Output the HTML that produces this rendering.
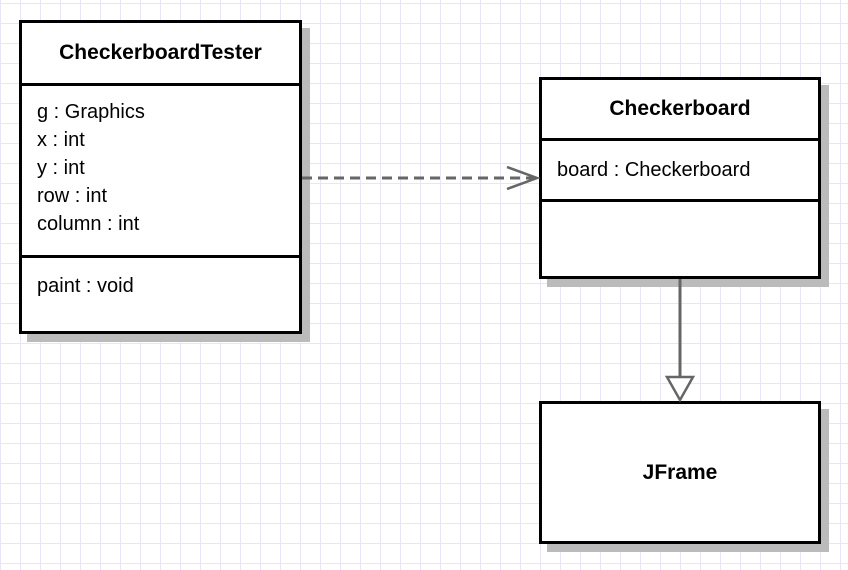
<!DOCTYPE html>
<html><head><style>
body{margin:0;width:848px;height:570px;overflow:hidden;font-family:"Liberation Sans",Arial,sans-serif;
background-color:#fff;
background-image:linear-gradient(to right,#e6e6f8 1px,transparent 1px),linear-gradient(to bottom,#e6e6f8 1px,transparent 1px);
background-size:20px 20px;background-position:0px 3px;}
.box{position:absolute;background:#fff;border:3px solid #000;box-shadow:8px 8px 0 #bbb;box-sizing:border-box}
.sec{border-bottom:3px solid #000;box-sizing:border-box}
.t{font-weight:bold;font-size:21px;text-align:center}
.a{font-size:20px;line-height:28px;padding-left:15px}
</style></head><body>
<div class="box" style="left:19px;top:20px;width:283px;height:314px">
 <div class="sec t" style="height:63px;line-height:60px">CheckerboardTester</div>
 <div class="sec a" style="height:172px;padding-top:12px">g : Graphics<br>x : int<br>y : int<br>row : int<br>column : int</div>
 <div class="a" style="padding-top:14px">paint : void</div>
</div>
<div class="box" style="left:539px;top:77px;width:282px;height:202px">
 <div class="sec t" style="height:61px;line-height:58px">Checkerboard</div>
 <div class="sec a" style="height:61px;line-height:58px">board : Checkerboard</div>
</div>
<div class="box" style="left:539px;top:401px;width:282px;height:143px">
 <div class="t" style="line-height:137px">JFrame</div>
</div>
<svg width="848" height="570" style="position:absolute;left:0;top:0">
<line x1="302" y1="178" x2="537" y2="178" stroke="#666" stroke-width="3" stroke-dasharray="10,6"/>
<polyline points="507,167 537,178 507,189" fill="none" stroke="#666" stroke-width="2.5"/>
<line x1="680" y1="279" x2="680" y2="377" stroke="#666" stroke-width="3"/>
<polygon points="667,377 693,377 680,400" fill="#fff" stroke="#666" stroke-width="2.5"/>
</svg>
</body></html>
